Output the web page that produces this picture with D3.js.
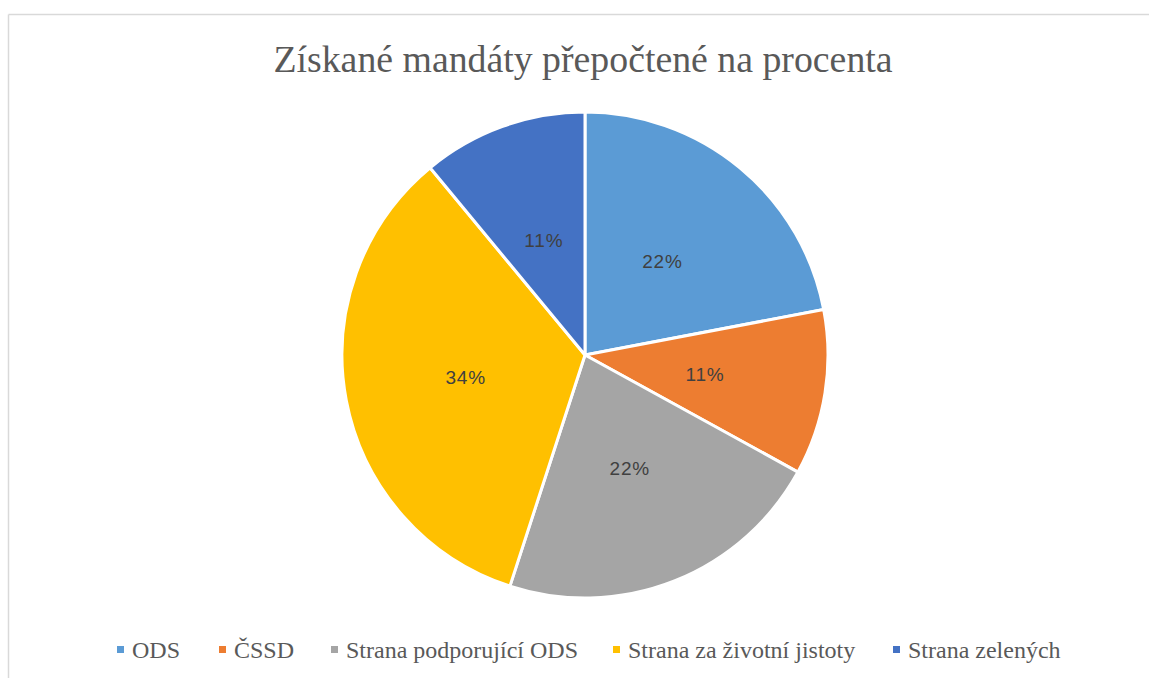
<!DOCTYPE html>
<html>
<head>
<meta charset="utf-8">
<script src="https://cdn.jsdelivr.net/npm/d3@7"></script>
<style>
  body { margin: 0; background: #fff; }
  svg { display: block; }
  .serif { font-family: "Times New Roman", "Liberation Serif", "DejaVu Serif", serif; }
</style>
</head>
<body>
<svg id="chart"></svg>
<script>
const title = "Získané mandáty přepočtené na procenta";
const parties = ["ODS", "ČSSD", "Strana podporující ODS", "Strana za životní jistoty", "Strana zelených"];
const shares = [22, 11, 22, 34, 11];
const colors = ["#5B9BD5", "#ED7D31", "#A5A5A5", "#FFC000", "#4472C4"];

const width = 1149, height = 678;
const cx = 585, cy = 355, radius = 243;

const svg = d3.select("#chart")
  .attr("width", width)
  .attr("height", height);

// chart frame (only top and left edges are visible)
svg.append("line")
  .attr("x1", 8.5).attr("y1", 14.5).attr("x2", width).attr("y2", 14.5)
  .attr("stroke", "#d9d9d9").attr("stroke-width", 1.5);
svg.append("line")
  .attr("x1", 8.5).attr("y1", 14.5).attr("x2", 8.5).attr("y2", height)
  .attr("stroke", "#d9d9d9").attr("stroke-width", 1.5);

// title
svg.append("text")
  .attr("class", "serif")
  .attr("x", 583)
  .attr("y", 72)
  .attr("text-anchor", "middle")
  .attr("font-size", 37.8)
  .attr("fill", "#595959")
  .text(title);

const data = parties.map((p, i) => ({ party: p, value: shares[i], color: colors[i] }));
const total = d3.sum(shares);

const pie = d3.pie().value(d => d.value).sort(null);
const arc = d3.arc().innerRadius(0).outerRadius(radius);
const labelArc = d3.arc().innerRadius(radius * 0.5).outerRadius(radius * 0.5);

const g = svg.append("g").attr("transform", `translate(${cx},${cy})`);

const slices = g.selectAll(".slice")
  .data(pie(data))
  .enter().append("g")
  .attr("class", "slice");

slices.append("path")
  .attr("d", arc)
  .attr("fill", d => d.data.color)
  .attr("stroke", "#fff")
  .attr("stroke-width", 3)
  .attr("stroke-linejoin", "round");

slices.append("text")
  .attr("transform", d => `translate(${labelArc.centroid(d)})`)
  .attr("text-anchor", "middle")
  .attr("dy", "0.35em")
  .attr("font-family", "'Liberation Sans', Arial, sans-serif")
  .attr("font-size", 19)
  .attr("letter-spacing", 0.8)
  .attr("fill", "#404040")
  .text(d => Math.round(d.data.value / total * 100) + "%");

// legend
const legendX = [117, 219, 331, 613, 893];
const legend = svg.append("g").attr("class", "legend");
const items = legend.selectAll(".item")
  .data(data)
  .enter().append("g")
  .attr("class", "item")
  .attr("transform", (d, i) => `translate(${legendX[i]},650)`);

items.append("rect")
  .attr("x", 0).attr("y", -4)
  .attr("width", 7).attr("height", 7)
  .attr("fill", d => d.color);

items.append("text")
  .attr("class", "serif")
  .attr("x", 15)
  .attr("y", 0)
  .attr("dy", "0.35em")
  .attr("font-size", 24)
  .attr("fill", "#595959")
  .text(d => d.party);
</script>
</body>
</html>
